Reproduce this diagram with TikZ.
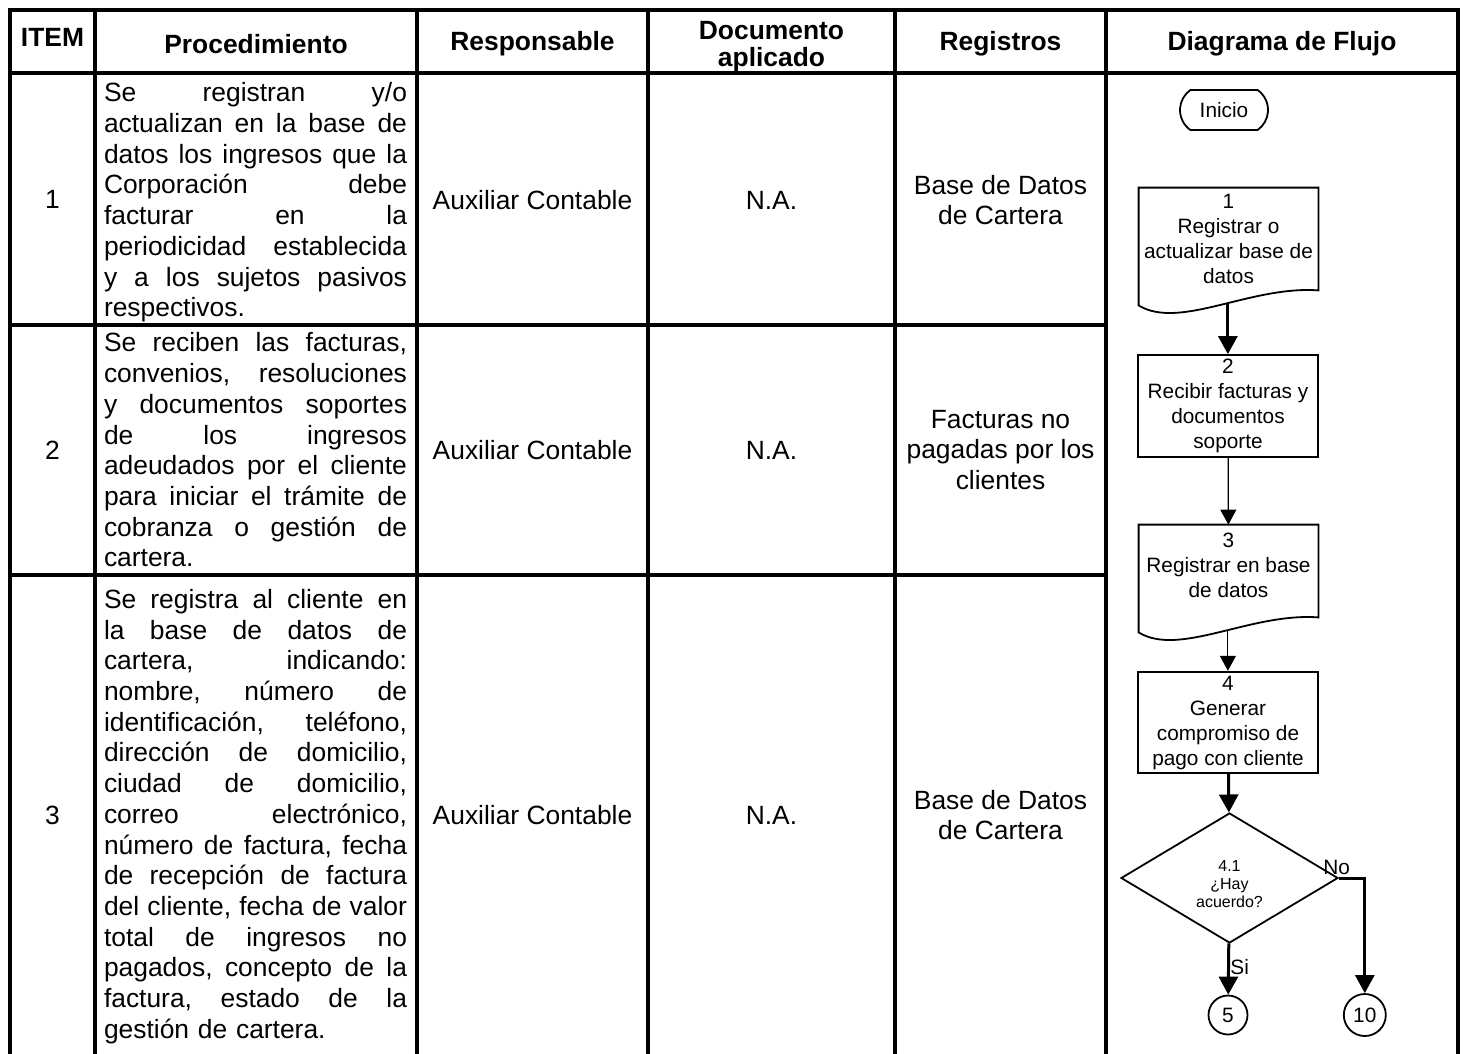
\documentclass[tikz,border=0pt]{standalone}
\usepackage{fontspec}
\setmainfont{Liberation Sans}
\usetikzlibrary{positioning,shapes.geometric,shapes.misc,arrows.meta}

\newlength\procw
\setlength\procw{151.5pt}
\newcommand{\justline}[1]{\leavevmode\hbox to\procw{\frenchspacing\spaceskip=\fontdimen2\font plus 1fil\relax#1}}

\begin{document}
\begin{tikzpicture}[x=0.5pt,y=-0.5pt,
  grid/.style={line width=2pt,line join=miter},
  hdr/.style={font=\bfseries\fontsize{13.2}{13.5}\selectfont,align=center,inner sep=0},
  cell/.style={font=\fontsize{13.2}{15.35}\selectfont,align=center,inner sep=0},
  proc/.style={font=\fontsize{13.2}{15.35}\selectfont,align=left,text width=\procw,inner sep=0},
  flow/.style={font=\fontsize{10.4}{12.5}\selectfont,align=center,inner sep=2pt},
  shapeline/.style={line width=0.9pt},
  procbox/.style={flow,draw,shapeline,minimum width=90pt},
  docbox/.style={flow,minimum width=89.5pt},
  term/.style={flow,draw,shapeline,rounded rectangle,rounded rectangle arc length=110,
    minimum width=48pt,minimum height=20pt},
  dec/.style={draw,shapeline,diamond,shape aspect=1.67,minimum width=108.5pt,minimum height=65pt,
    inner sep=0,align=center,font=\fontsize{8}{9}\selectfont},
  circ/.style={flow,draw,shapeline,circle,inner sep=0,minimum size=19.5pt},
  lbl/.style={font=\fontsize{10.4}{12.5}\selectfont,inner sep=0},
  thickarr/.style={line width=1.5pt,-{Triangle[length=9pt,width=9.5pt]}},
  thinarr/.style={line width=0.6pt,-{Triangle[length=7.5pt,width=8pt]}}]
  \useasboundingbox (0,0) rectangle (1467,1054);

  % Table grid
  \draw[grid] (10,1054) -- (10,10) -- (1458,10) -- (1458,1054);
  \draw[grid] (95,10) -- (95,1054);
  \draw[grid] (417,10) -- (417,1054);
  \draw[grid] (648,10) -- (648,1054);
  \draw[grid] (895,10) -- (895,1054);
  \draw[grid] (1106,10) -- (1106,1054);
  \draw[grid] (10,73) -- (1458,73);
  \draw[grid] (10,325) -- (1106,325);
  \draw[grid] (10,575) -- (1106,575);

  % Header
  \node[hdr] (hitem) at (52.5,37)  {ITEM};
  \node[hdr] (hproc) at (256,44)   {Procedimiento};
  \node[hdr] (hresp) at (532.5,44) {Responsable};
  \node[hdr] (hdoc)  at (771.5,47) {Documento\\aplicado};
  \node[hdr] (hreg)  at (1000.5,44){Registros};
  \node[hdr] (hflow) at (1282,44)  {Diagrama de Flujo};

  % Rows
  \node[cell] (i1) at (52.5,199) {1};
  \node[cell] (i2) at (52.5,450) {2};
  \node[cell] (i3) at (52.5,815) {3};

  \node[proc] (p1) at (255.5,202.5) {\justline{Se registran y/o}\\
    \justline{actualizan en la base de}\\ \justline{datos los ingresos que la}\\
    \justline{Corporación debe}\\ \justline{facturar en la}\\
    \justline{periodicidad establecida}\\ \justline{y a los sujetos pasivos}\\
    respectivos.};
  \node[proc] (p2) at (255.5,450) {\justline{Se reciben las facturas,}\\
    \justline{convenios, resoluciones}\\ \justline{y documentos soportes}\\
    \justline{de los ingresos}\\ \justline{adeudados por el cliente}\\
    \justline{para iniciar el trámite de}\\ \justline{cobranza o gestión de}\\
    cartera.};
  \node[proc] (p3) at (255.5,816.5) {\justline{Se registra al cliente en}\\
    \justline{la base de datos de}\\ \justline{cartera, indicando:}\\
    \justline{nombre, número de}\\ \justline{identificación, teléfono,}\\
    \justline{dirección de domicilio,}\\ \justline{ciudad de domicilio,}\\
    \justline{correo electrónico,}\\ \justline{número de factura, fecha}\\
    \justline{de recepción de factura}\\ \justline{del cliente, fecha de valor}\\
    \justline{total de ingresos no}\\ \justline{pagados, concepto de la}\\
    \justline{factura, estado de la}\\ gestión de cartera.};

  \node[cell] (r1) at (532.5,200) {Auxiliar Contable};
  \node[cell] (r2) at (532.5,450) {Auxiliar Contable};
  \node[cell] (r3) at (532.5,815) {Auxiliar Contable};

  \node[cell] (a1) at (771.5,200) {N.A.};
  \node[cell] (a2) at (771.5,450) {N.A.};
  \node[cell] (a3) at (771.5,815) {N.A.};

  \node[cell] (g1) at (1000.5,200) {Base de Datos\\de Cartera};
  \node[cell] (g2) at (1000.5,450) {Facturas no\\pagadas por los\\clientes};
  \node[cell] (g3) at (1000.5,815) {Base de Datos\\de Cartera};

  % Flow nodes
  \node[term]                                   (ini) at (1224,110)   {Inicio};
  \node[docbox, minimum height=51pt]            (d1)  at (1228.5,239) {1\\Registrar o\\actualizar base de\\datos};
  \node[procbox, minimum height=51pt]           (b2)  at (1228,406)   {2\\Recibir facturas y\\documentos\\soporte};
  \node[docbox, minimum height=40pt]            (d3)  at (1228.5,565) {3\\Registrar en base\\de datos};
  \node[procbox, minimum height=50.5pt]         (b4)  at (1228,722.5) {4\\Generar\\compromiso de\\pago con cliente};
  \node[dec]                                    (dia) at (1229.5,878) {\mbox{}\\[3pt]4.1\\¿Hay\\acuerdo?};
  \node[circ]                                   (c5)  at (1228,1015)  {5};
  \node[circ, minimum size=21pt, right=47.25pt of c5] (c10) {10};

  % Document outlines
  \draw[shapeline] (d1.north west) -- (d1.north east) -- (d1.south east)
    .. controls ([xshift=-34pt,yshift=2.5pt]d1.south east) and ([xshift=20.5pt,yshift=-20pt]d1.south west)
    .. ([yshift=-7.5pt]d1.south west) coordinate[pos=0.45] (d1w) -- cycle;
  \draw[shapeline] (d3.north west) -- (d3.north east) -- ([yshift=-6pt]d3.south east)
    .. controls ([xshift=-34pt,yshift=-3.5pt]d3.south east) and ([xshift=20.5pt,yshift=-26pt]d3.south west)
    .. ([yshift=-13.5pt]d3.south west) coordinate[pos=0.45] (d3w) -- cycle;

  % Connect the nodes
  \draw[thickarr] (d1w) -- (d1w |- b2.north);
  \draw[thinarr]  (b2) -- (d3);
  \draw[thinarr]  (d3w) -- (d3w |- b4.north);
  \draw[thickarr] (b4) -- (dia);
  \draw[thickarr] (dia) -- (c5);
  \draw[thickarr] (dia.east) -| (c10);

  \node[lbl, anchor=base west] (lno) at (1323,874) {No};
  \node[lbl, anchor=base west] (lsi) at (1230,974) {Si};
\end{tikzpicture}
\end{document}
